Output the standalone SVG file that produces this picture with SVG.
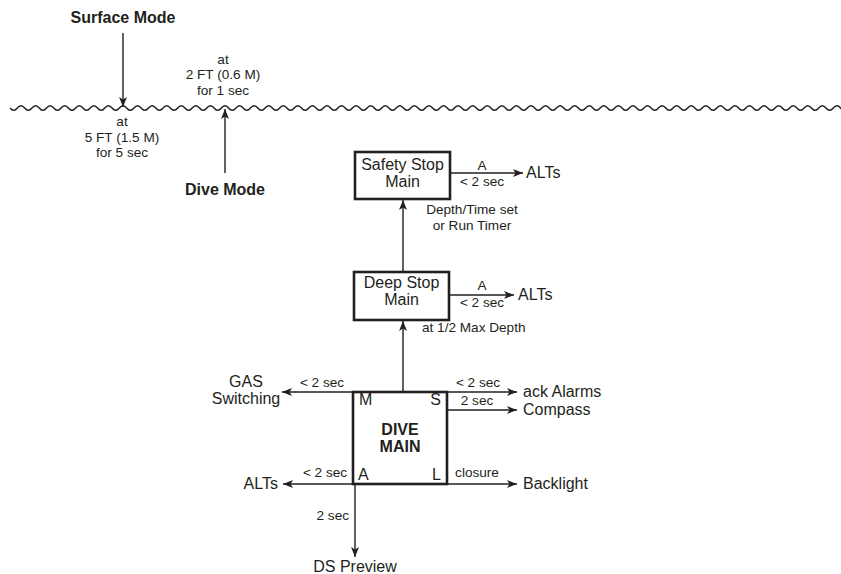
<svg xmlns="http://www.w3.org/2000/svg" width="841" height="574" viewBox="0 0 841 574">
<defs>
<marker id="ah" markerUnits="userSpaceOnUse" markerWidth="11" markerHeight="9" refX="10" refY="4.5" orient="auto">
<path d="M0,0.5 L10,4.5 L0,8.5 L2.5,4.5 z" fill="#231f20"/>
</marker>
<style>
text{font-family:"Liberation Sans",Arial,sans-serif;fill:#231f20}
.m{font-size:16px}
.s{font-size:13.6px}
.b{font-size:16px;font-weight:bold}
.c{text-anchor:middle}
.e{text-anchor:end}
.box{fill:#fff;stroke:#231f20;stroke-width:2.6}
.ln{stroke:#231f20;stroke-width:1.4;fill:none}
.ar{marker-end:url(#ah)}
</style>
</defs>
<rect width="841" height="574" fill="#fff"/>
<path id="wave" class="ln" stroke-width="1.2" d="M10.09,108 q3.64,4.5 7.285,0 t7.285,0 t7.285,0 t7.285,0 t7.285,0 t7.285,0 t7.285,0 t7.285,0 t7.285,0 t7.285,0 t7.285,0 t7.285,0 t7.285,0 t7.285,0 t7.285,0 t7.285,0 t7.285,0 t7.285,0 t7.285,0 t7.285,0 t7.285,0 t7.285,0 t7.285,0 t7.285,0 t7.285,0 t7.285,0 t7.285,0 t7.285,0 t7.285,0 t7.285,0 t7.285,0 t7.285,0 t7.285,0 t7.285,0 t7.285,0 t7.285,0 t7.285,0 t7.285,0 t7.285,0 t7.285,0 t7.285,0 t7.285,0 t7.285,0 t7.285,0 t7.285,0 t7.285,0 t7.285,0 t7.285,0 t7.285,0 t7.285,0 t7.285,0 t7.285,0 t7.285,0 t7.285,0 t7.285,0 t7.285,0 t7.285,0 t7.285,0 t7.285,0 t7.285,0 t7.285,0 t7.285,0 t7.285,0 t7.285,0 t7.285,0 t7.285,0 t7.285,0 t7.285,0 t7.285,0 t7.285,0 t7.285,0 t7.285,0 t7.285,0 t7.285,0 t7.285,0 t7.285,0 t7.285,0 t7.285,0 t7.285,0 t7.285,0 t7.285,0 t7.285,0 t7.285,0 t7.285,0 t7.285,0 t7.285,0 t7.285,0 t7.285,0 t7.285,0 t7.285,0 t7.285,0 t7.285,0 t7.285,0 t7.285,0 t7.285,0 t7.285,0 t7.285,0 t7.285,0 t7.285,0 t7.285,0 t7.285,0 t7.285,0 t7.285,0 t7.285,0 t7.285,0 t7.285,0 t7.285,0 t7.285,0 t7.285,0 t7.285,0 t7.285,0 t7.285,0 t7.285,0 t7.285,0 t7.285,0 t7.285,0 t7.285,0"/>

<g id="connectors">
<line class="ln ar" x1="123" y1="33" x2="123" y2="107"/>
<line class="ln ar" x1="225" y1="173" x2="225" y2="109"/>
<line class="ln ar" x1="403" y1="272" x2="403" y2="200"/>
<line class="ln ar" x1="403" y1="392" x2="403" y2="321"/>
<line class="ln ar" x1="450" y1="173" x2="523" y2="173"/>
<line class="ln ar" x1="449" y1="295" x2="514" y2="295"/>
<line class="ln ar" x1="353" y1="392" x2="282" y2="392"/>
<line class="ln ar" x1="447" y1="392" x2="517" y2="392"/>
<line class="ln ar" x1="447" y1="410" x2="517" y2="410"/>
<line class="ln ar" x1="353" y1="484" x2="283" y2="484"/>
<line class="ln ar" x1="447" y1="484" x2="517" y2="484"/>
<line class="ln ar" x1="355" y1="484" x2="355" y2="557"/>
</g>

<g id="surface-mode">
<text class="b c" x="123" y="23">Surface Mode</text>
</g>
<g id="dive-mode">
<text class="b c" x="225" y="195">Dive Mode</text>
</g>
<g id="labels-surface">
<text class="s c" x="223" y="63.5">at</text>
<text class="s c" x="223" y="79">2 FT (0.6 M)</text>
<text class="s c" x="223" y="94.5">for 1 sec</text>
<text class="s c" x="122" y="126">at</text>
<text class="s c" x="122" y="141.5">5 FT (1.5 M)</text>
<text class="s c" x="122" y="157">for 5 sec</text>
</g>

<g id="safety-stop">
<rect class="box" x="355" y="152" width="95" height="47"/>
<text class="m c" x="402.5" y="170">Safety Stop</text>
<text class="m c" x="402.5" y="187">Main</text>
</g>
<g id="safety-labels">
<text class="s c" x="482" y="170">A</text>
<text class="s c" x="482" y="186">&lt; 2 sec</text>
<text class="m" x="526" y="178">ALTs</text>
<text class="s c" x="472" y="214">Depth/Time set</text>
<text class="s c" x="472" y="230">or Run Timer</text>
</g>

<g id="deep-stop">
<rect class="box" x="354" y="272" width="95" height="48"/>
<text class="m c" x="401.5" y="288">Deep Stop</text>
<text class="m c" x="401.5" y="305">Main</text>
</g>
<g id="deep-labels">
<text class="s c" x="482" y="290">A</text>
<text class="s c" x="482" y="307">&lt; 2 sec</text>
<text class="m" x="518" y="300">ALTs</text>
<text class="s" x="422" y="332">at 1/2 Max Depth</text>
</g>

<g id="dive-main">
<rect class="box" x="353" y="392" width="94" height="92"/>
<text class="m" x="359" y="405">M</text>
<text class="m e" x="441" y="405">S</text>
<text class="b c" x="400" y="435">DIVE</text>
<text class="b c" x="400" y="452">MAIN</text>
<text class="m" x="358" y="480">A</text>
<text class="m e" x="441" y="480">L</text>
</g>

<g id="gas-switching">
<text class="m c" x="246" y="387">GAS</text>
<text class="m c" x="246" y="404">Switching</text>
<text class="s c" x="322" y="387">&lt; 2 sec</text>
</g>
<g id="ack-alarms">
<text class="s c" x="478" y="387">&lt; 2 sec</text>
<text class="m" x="523" y="397">ack Alarms</text>
</g>
<g id="compass">
<text class="s c" x="477" y="405">2 sec</text>
<text class="m" x="523" y="415">Compass</text>
</g>
<g id="alts-left">
<text class="s c" x="325" y="477">&lt; 2 sec</text>
<text class="m e" x="278" y="489">ALTs</text>
</g>
<g id="backlight">
<text class="s c" x="477" y="477">closure</text>
<text class="m" x="523" y="489">Backlight</text>
</g>
<g id="ds-preview">
<text class="s e" x="349" y="520">2 sec</text>
<text class="m c" x="355" y="572">DS Preview</text>
</g>
</svg>
